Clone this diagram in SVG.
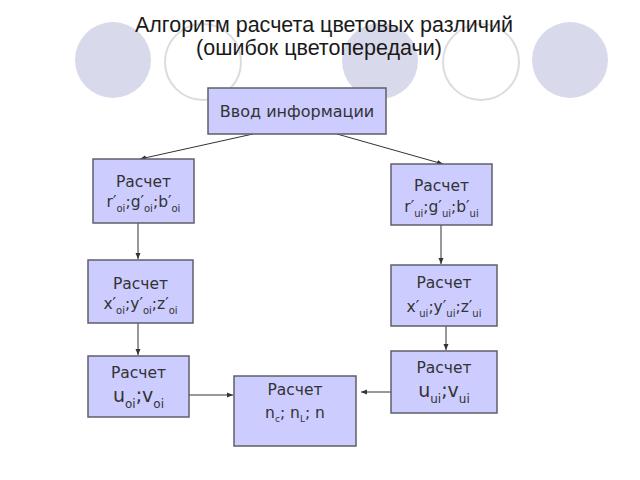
<svg xmlns="http://www.w3.org/2000/svg" width="640" height="480" viewBox="0 0 640 480">
<defs>
<marker id="ah" markerUnits="userSpaceOnUse" markerWidth="7" markerHeight="6" refX="6" refY="3" orient="auto">
<path d="M0,0.5 L6,3 L0,5.5 Z" fill="#333"/>
</marker>
<style>
.bg{fill:#d9d9ec}
.ring{fill:none;stroke:#dcdcdc;stroke-width:2}
.title{font-family:"Liberation Sans",Arial,sans-serif;font-size:21.5px;fill:#1a1a1a;text-anchor:middle}
.box{fill:#ccccff;stroke:#5f5f6a;stroke-width:1.5}
.t{font-family:"DejaVu Sans",Verdana,sans-serif;font-size:15.5px;fill:#333;text-anchor:middle}
.s{font-size:10px}
.big{font-size:19px}
.sb{font-size:12px}
.edge{stroke:#333;stroke-width:1;fill:none;marker-end:url(#ah)}
</style>
</defs>
<rect width="640" height="480" fill="#fff"/>
<g id="decor">
<circle class="bg" cx="113" cy="60" r="38"/>
<circle class="ring" cx="203" cy="62" r="38"/>
<circle class="bg" cx="380" cy="61" r="38"/>
<circle class="ring" cx="481" cy="62" r="38"/>
<circle class="bg" cx="570" cy="60" r="38"/>
</g>
<g id="title">
<text class="title" x="324" y="32">Алгоритм расчета цветовых различий</text>
<text class="title" x="319" y="55">(ошибок цветопередачи)</text>
</g>
<g id="connectors">
<line class="edge" x1="253" y1="134" x2="140" y2="159"/>
<line class="edge" x1="337" y1="134" x2="443" y2="164"/>
<line class="edge" x1="138" y1="223" x2="138" y2="259"/>
<line class="edge" x1="441" y1="225" x2="441" y2="264"/>
<line class="edge" x1="138" y1="323" x2="138" y2="355"/>
<line class="edge" x1="446" y1="326" x2="446" y2="350"/>
<line class="edge" x1="189" y1="395" x2="233" y2="395"/>
<line class="edge" x1="391" y1="392" x2="361" y2="392"/>
</g>
<g id="input">
<rect class="box" x="208" y="88" width="178" height="46"/>
<text class="t" x="297" y="117" style="font-size:16px">Ввод информации</text>
</g>
<g id="rgb-oi">
<rect class="box" x="93" y="159" width="101" height="64"/>
<text class="t" x="143.5" y="187">Расчет</text>
<text class="t" x="143.5" y="207">r′<tspan class="s" dy="5">oi</tspan><tspan dy="-5">;g′</tspan><tspan class="s" dy="5">oi</tspan><tspan dy="-5">;b′</tspan><tspan class="s" dy="5">oi</tspan></text>
</g>
<g id="rgb-ui">
<rect class="box" x="391" y="164" width="101" height="61"/>
<text class="t" x="441.5" y="191">Расчет</text>
<text class="t" x="441.5" y="212">r′<tspan class="s" dy="5">ui</tspan><tspan dy="-5">;g′</tspan><tspan class="s" dy="5">ui</tspan><tspan dy="-5">;b′</tspan><tspan class="s" dy="5">ui</tspan></text>
</g>
<g id="xyz-oi">
<rect class="box" x="88" y="260" width="105" height="63"/>
<text class="t" x="140.5" y="289">Расчет</text>
<text class="t" x="140.5" y="309">x′<tspan class="s" dy="5">oi</tspan><tspan dy="-5">;y′</tspan><tspan class="s" dy="5">oi</tspan><tspan dy="-5">;z′</tspan><tspan class="s" dy="5">oi</tspan></text>
</g>
<g id="xyz-ui">
<rect class="box" x="391" y="265" width="106" height="61"/>
<text class="t" x="444" y="288">Расчет</text>
<text class="t" x="444" y="312">x′<tspan class="s" dy="5">ui</tspan><tspan dy="-5">;y′</tspan><tspan class="s" dy="5">ui</tspan><tspan dy="-5">;z′</tspan><tspan class="s" dy="5">ui</tspan></text>
</g>
<g id="uv-oi">
<rect class="box" x="88" y="356" width="101" height="61"/>
<text class="t" x="138.5" y="378">Расчет</text>
<text class="t big" x="138.5" y="402">u<tspan class="sb" dy="6">oi</tspan><tspan dy="-6">;v</tspan><tspan class="sb" dy="6">oi</tspan></text>
</g>
<g id="uv-ui">
<rect class="box" x="391" y="351" width="106" height="62"/>
<text class="t" x="444" y="373">Расчет</text>
<text class="t big" x="444" y="397">u<tspan class="sb" dy="6">ui</tspan><tspan dy="-6">;v</tspan><tspan class="sb" dy="6">ui</tspan></text>
</g>
<g id="n-calc">
<rect class="box" x="234" y="376" width="122" height="70"/>
<text class="t" x="295" y="395">Расчет</text>
<text class="t" x="295" y="418">n<tspan style="font-size:9px" dy="4">c</tspan><tspan dy="-4">; n</tspan><tspan style="font-size:9px" dy="4">L</tspan><tspan dy="-4">; n</tspan></text>
</g>
</svg>
